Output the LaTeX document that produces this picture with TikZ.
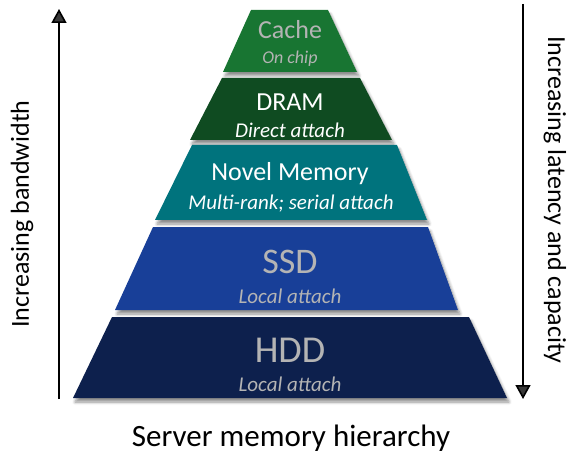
\documentclass[tikz,border=0pt]{standalone}
\usepackage{fontspec}
\setmainfont{Carlito}
\usetikzlibrary{shadows.blur,arrows.meta}
\definecolor{cachec}{HTML}{187532}
\definecolor{dramc}{HTML}{0F4B21}
\definecolor{novelc}{HTML}{00737D}
\definecolor{ssdc}{HTML}{183F98}
\definecolor{hddc}{HTML}{0D204D}
\definecolor{graytxt}{HTML}{B4B4B4}
\tikzset{
  tier/.style={blur shadow={shadow xshift=2pt,shadow yshift=-4pt,shadow blur steps=6,shadow blur radius=3pt,shadow opacity=45}},
  axis/.style={line width=1.6pt,-{Triangle[length=14pt,width=15pt]}},
  lbl/.style={inner sep=0pt,anchor=center},
}
\begin{document}
\begin{tikzpicture}[x=1pt,y=-1pt]
\useasboundingbox (0,0) rectangle (572,454);
% tiers
\fill[tier,cachec] (251,10) -- (328,10) -- (357,72) -- (223,72) -- cycle;
\fill[tier,dramc] (222,78) -- (360,78) -- (392,140) -- (190,140) -- cycle;
\fill[tier,novelc] (192,145) -- (397,145) -- (427,220) -- (155,220) -- cycle;
\fill[tier,ssdc] (153,227) -- (428,227) -- (458,310) -- (115,310) -- cycle;
\fill[tier,hddc] (112,317) -- (469,317) -- (507,398) -- (73,398) -- cycle;
% texts
\node[lbl,text=graytxt,font=\fontsize{26}{28}\selectfont] (cache) at (290,30) {Cache};
\node[lbl,text=graytxt,font=\fontsize{18}{20}\itshape] (cachesub) at (290,59) {On chip};
\node[lbl,text=white,font=\fontsize{26}{28}\selectfont] (dram) at (290,102) {DRAM};
\node[lbl,text=white,font=\fontsize{21}{23}\itshape] (dramsub) at (290,130) {Direct attach};
\node[lbl,text=white,font=\fontsize{26}{28}\selectfont] (novel) at (290,174) {Novel Memory};
\node[lbl,text=white,font=\fontsize{21}{23}\itshape] (novelsub) at (291,204) {Multi-rank; serial attach};
\node[lbl,text=graytxt,font=\fontsize{36}{38}\selectfont] (ssd) at (290,262) {SSD};
\node[lbl,text=graytxt,font=\fontsize{21}{23}\itshape] (ssdsub) at (290,296) {Local attach};
\node[lbl,text=graytxt,font=\fontsize{38}{40}\selectfont] (hdd) at (290,350) {HDD};
\node[lbl,text=graytxt,font=\fontsize{21}{23}\itshape] (hddsub) at (290,384) {Local attach};
% axes
\coordinate (lbot) at (59,399);
\coordinate (ltop) at (59,9);
\draw[axis] (lbot) -- (ltop);
\coordinate (rtop) at (523,4);
\coordinate (rbot) at (523,399);
\draw[axis] (rtop) -- (rbot);
\node[lbl,rotate=90,font=\fontsize{26}{28}\selectfont] (bw) at (22,214) {Increasing bandwidth};
\node[lbl,rotate=-90,font=\fontsize{26}{28}\selectfont] (lat) at (555,200) {Increasing latency and capacity};
\node[lbl,font=\fontsize{31}{33}\selectfont] (title) at (291,438) {Server memory hierarchy};
\end{tikzpicture}
\end{document}
